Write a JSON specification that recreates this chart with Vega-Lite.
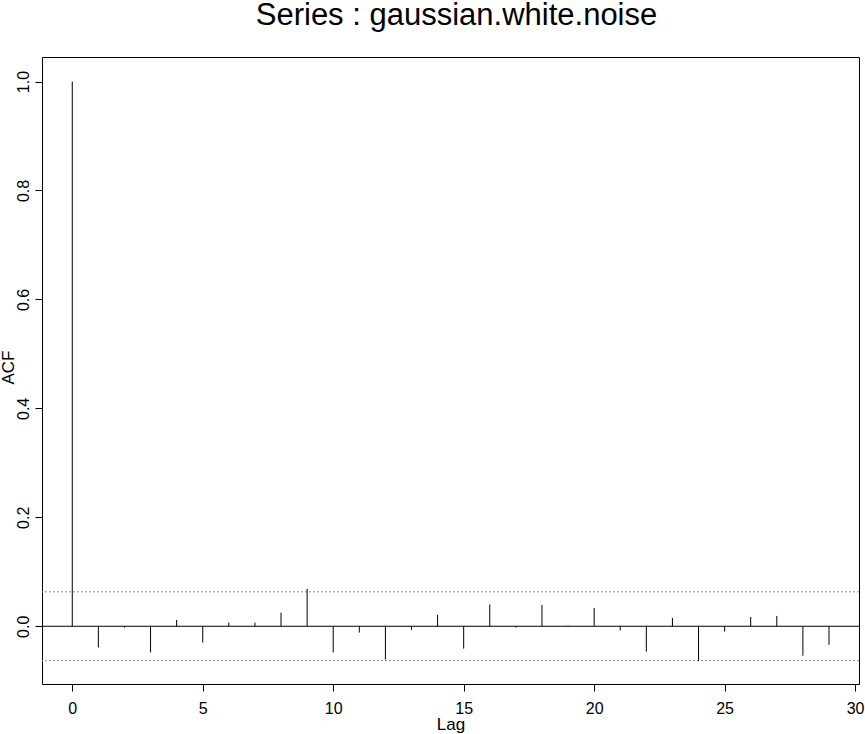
{
  "$schema": "https://vega.github.io/schema/vega-lite/v6.json",
  "autosize": {"type": "none"},
  "width": 817,
  "height": 627,
  "padding": {"left": 42, "top": 57, "right": 6, "bottom": 50},
  "background": "white",
  "config": {
    "view": {"stroke": "black", "strokeWidth": 1},
    "font": "Liberation Sans",
    "axis": {"domain": false, "grid": false, "tickColor": "black", "tickSize": 7, "labelColor": "black", "labelFontSize": 16, "labelFont": "Liberation Sans", "titleFont": "Liberation Sans", "titleFontWeight": "normal", "titleFontSize": 17, "titleColor": "black"}
  },
  "title": {"text": "Series : gaussian.white.noise", "fontSize": 31, "fontWeight": "normal", "font": "Liberation Sans", "color": "black", "anchor": "middle", "frame": "group", "baseline": "bottom", "offset": -6, "dx": 6},
  "datasets": {
    "acf": [
      {"lag": 0, "acf": 1.0},
      {"lag": 1, "acf": -0.039},
      {"lag": 2, "acf": -0.0025},
      {"lag": 3, "acf": -0.048},
      {"lag": 4, "acf": 0.0116},
      {"lag": 5, "acf": -0.030},
      {"lag": 6, "acf": 0.0067},
      {"lag": 7, "acf": 0.0067},
      {"lag": 8, "acf": 0.025},
      {"lag": 9, "acf": 0.0686},
      {"lag": 10, "acf": -0.048},
      {"lag": 11, "acf": -0.0116},
      {"lag": 12, "acf": -0.061},
      {"lag": 13, "acf": -0.0067},
      {"lag": 14, "acf": 0.021},
      {"lag": 15, "acf": -0.041},
      {"lag": 16, "acf": 0.040},
      {"lag": 17, "acf": -0.0025},
      {"lag": 18, "acf": 0.039},
      {"lag": 19, "acf": 0.001},
      {"lag": 20, "acf": 0.0337},
      {"lag": 21, "acf": -0.008},
      {"lag": 22, "acf": -0.0465},
      {"lag": 23, "acf": 0.0153},
      {"lag": 24, "acf": -0.0637},
      {"lag": 25, "acf": -0.0098},
      {"lag": 26, "acf": 0.0171},
      {"lag": 27, "acf": 0.019},
      {"lag": 28, "acf": -0.054},
      {"lag": 29, "acf": -0.034}
    ],
    "ci": [
      {"level": 0.0632},
      {"level": -0.0632}
    ],
    "zero": [
      {"level": 0}
    ]
  },
  "layer": [
    {
      "data": {"name": "ci"},
      "mark": {"type": "rule", "color": "#8c8c8c", "strokeDash": [2, 2], "strokeWidth": 1},
      "encoding": {
        "y": {"field": "level", "type": "quantitative", "scale": {"domain": [-0.106, 1.045], "nice": false, "zero": false}}
      }
    },
    {
      "data": {"name": "zero"},
      "mark": {"type": "rule", "color": "black", "strokeWidth": 1},
      "encoding": {
        "y": {"field": "level", "type": "quantitative"}
      }
    },
    {
      "data": {"name": "acf"},
      "mark": {"type": "rule", "color": "black", "strokeWidth": 1},
      "encoding": {
        "x": {"field": "lag", "type": "quantitative", "title": "Lag",
              "scale": {"domain": [-1.16, 30.15], "nice": false, "zero": false},
              "axis": {"values": [0, 5, 10, 15, 20, 25, 30], "labelPadding": 9, "titleY": 32, "titleBaseline": "top"}},
        "y": {"field": "acf", "type": "quantitative", "title": "ACF",
              "axis": {"values": [0, 0.2, 0.4, 0.6, 0.8, 1.0], "format": ".1f", "labelAngle": -90, "labelAlign": "center", "labelBaseline": "bottom", "labelPadding": 4, "titleX": -25, "titleY": 310, "titleAngle": -90, "titleBaseline": "bottom"}},
        "y2": {"datum": 0}
      }
    }
  ]
}
